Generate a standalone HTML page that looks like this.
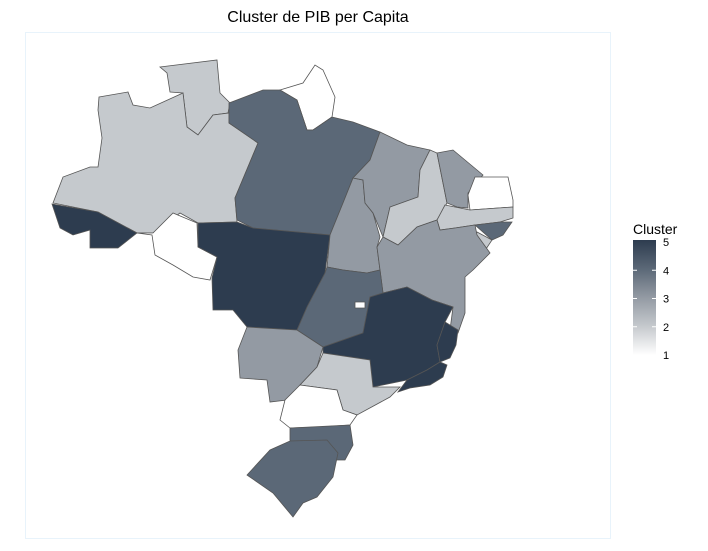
<!DOCTYPE html>
<html><head><meta charset="utf-8"><style>
body{margin:0;background:#fff;width:708px;height:551px;overflow:hidden;font-family:"Liberation Sans",sans-serif}
svg{display:block}
</style></head><body>
<svg id="chart" width="708" height="551">
<rect x="25.5" y="32.5" width="585" height="506" fill="none" stroke="#e8f3fb"/>
<text x="318" y="22" text-anchor="middle" font-size="16" fill="#000">Cluster de PIB per Capita</text>
<g id="map"></g>
<g id="legend">
<defs><linearGradient id="lg" x1="0" y1="1" x2="0" y2="0">
<stop offset="0" stop-color="#ffffff"/><stop offset="0.25" stop-color="#c5c9cd"/><stop offset="0.5" stop-color="#939aa3"/><stop offset="0.75" stop-color="#5b6877"/><stop offset="1" stop-color="#2d3c4f"/></linearGradient></defs>
<text x="633" y="234" font-size="14" fill="#000">Cluster</text>
<rect x="633" y="240" width="23" height="115" fill="url(#lg)"/>
</g>
</svg>
<script>
const states = ["RR","AM","AC","RO","AP","PA","MT","TO","MA","PI","CE","RN-PB","PE","AL","SE","BA","GO","DF","MG","ES","RJ","MS","SP","PR","SC","RS"];
const clusters = [2,2,5,1,1,4,5,3,3,2,3,1,2,4,2,3,4,1,5,5,5,3,2,1,4,4];
const legendTicks = [1,2,3,4,5];
const shapes = {
RR:"160,67 217,60 220,93 230,103 228,113 213,115 198,135 187,127 183,93 170,92 167,73",
AM:"99,97 128,92 133,105 150,108 183,93 187,127 198,135 213,115 229,113 229,123 258,143 235,198 237,222 198,223 180,213 153,233 137,233 98,212 53,203 63,177 90,167 98,167 102,138 98,110",
AC:"52,204 98,212 137,233 118,248 90,248 90,230 73,235 60,228",
RO:"137,233 153,233 173,213 197,223 198,247 217,257 210,280 193,277 173,265 155,255 152,235",
AP:"280,90 303,83 315,65 323,70 335,97 332,117 313,130 307,130 297,100",
PA:"229,103 263,90 280,90 297,100 307,130 313,130 332,117 353,122 380,132 370,160 353,178 343,203 330,235 253,228 237,220 235,198 258,143 229,123",
MT:"198,223 237,222 253,228 330,235 325,273 307,307 297,330 247,327 233,310 213,310 212,278 217,257 198,247",
TO:"330,235 343,203 353,178 363,180 365,203 373,213 380,237 377,247 380,270 367,273 343,270 327,267",
MA:"380,132 407,145 430,150 420,170 418,197 390,207 383,237 373,213 365,203 363,180 353,178 370,160",
PI:"430,150 437,153 447,203 437,220 417,227 398,245 383,237 390,207 418,197 420,170",
CE:"437,153 453,150 483,175 468,193 468,208 457,207 447,203",
"RN-PB":"475,177 508,177 513,200 513,207 470,210 468,195",
PE:"445,205 470,210 513,207 513,218 500,222 475,225 455,228 440,230 437,220",
AL:"475,225 500,222 512,222 503,235 492,240",
SE:"477,232 492,240 482,255 473,245",
BA:"383,237 398,245 417,227 437,220 440,230 455,228 475,225 477,235 490,253 473,270 465,277 465,313 458,333 450,330 453,307 432,300 407,287 383,293 380,270 377,247",
GO:"327,267 343,270 367,273 380,270 383,293 370,297 363,333 323,347 297,330 307,307 325,273",
DF:"355,302 365,302 365,308 355,308",
MG:"370,297 383,293 407,287 432,300 453,307 445,322 437,345 440,362 427,370 407,380 373,387 370,360 323,353 323,347 363,333",
ES:"445,322 458,330 456,345 450,358 440,362 437,345",
RJ:"407,380 427,370 440,362 447,365 443,377 430,385 410,388 398,392",
MS:"247,327 297,330 323,347 317,367 300,385 287,400 270,402 267,380 240,378 238,350",
SP:"323,353 370,360 373,387 400,387 390,397 357,415 343,410 337,390 300,385 317,367",
PR:"300,385 337,390 343,410 357,415 350,425 320,427 290,428 280,420 285,400",
SC:"290,428 350,425 353,445 345,460 330,460 310,452 293,452 290,440",
RS:"290,441 327,440 338,453 333,477 317,497 303,503 293,517 273,493 247,475 270,450"
};
const palette = ["#ffffff","#c5c9cd","#939aa3","#5b6877","#2d3c4f"];
function colorScale(v){return palette[Math.max(0,Math.min(4,Math.round(v)-1))];}
const NS="http://www.w3.org/2000/svg";
const map=document.getElementById('map');
states.forEach((s,i)=>{
  const p=document.createElementNS(NS,'polygon');
  p.setAttribute('points',shapes[s]);
  p.setAttribute('fill',colorScale(clusters[i]));
  p.setAttribute('stroke','#555');
  p.setAttribute('stroke-width','0.8');
  
  
  map.appendChild(p);
});
const leg=document.getElementById('legend');
const y0=355,y1=242;
function ly(v){return y0+(v-1)/(4)*(y1-y0);}
legendTicks.forEach(t=>{
  const y=ly(t);
  const tx=document.createElementNS(NS,'text');
  tx.setAttribute('x',663);tx.setAttribute('y',y+4);
  tx.setAttribute('font-size','11');tx.textContent=t;
  
  
  leg.appendChild(tx);
  if(t>1&&t<5){
    [[633,637],[652,656]].forEach(([a,b])=>{
      const l=document.createElementNS(NS,'line');
      l.setAttribute('x1',a);l.setAttribute('x2',b);l.setAttribute('y1',y);l.setAttribute('y2',y);
      l.setAttribute('stroke','#fff');
      
      
      leg.appendChild(l);
    });
  }
});
</script>
</body></html>
